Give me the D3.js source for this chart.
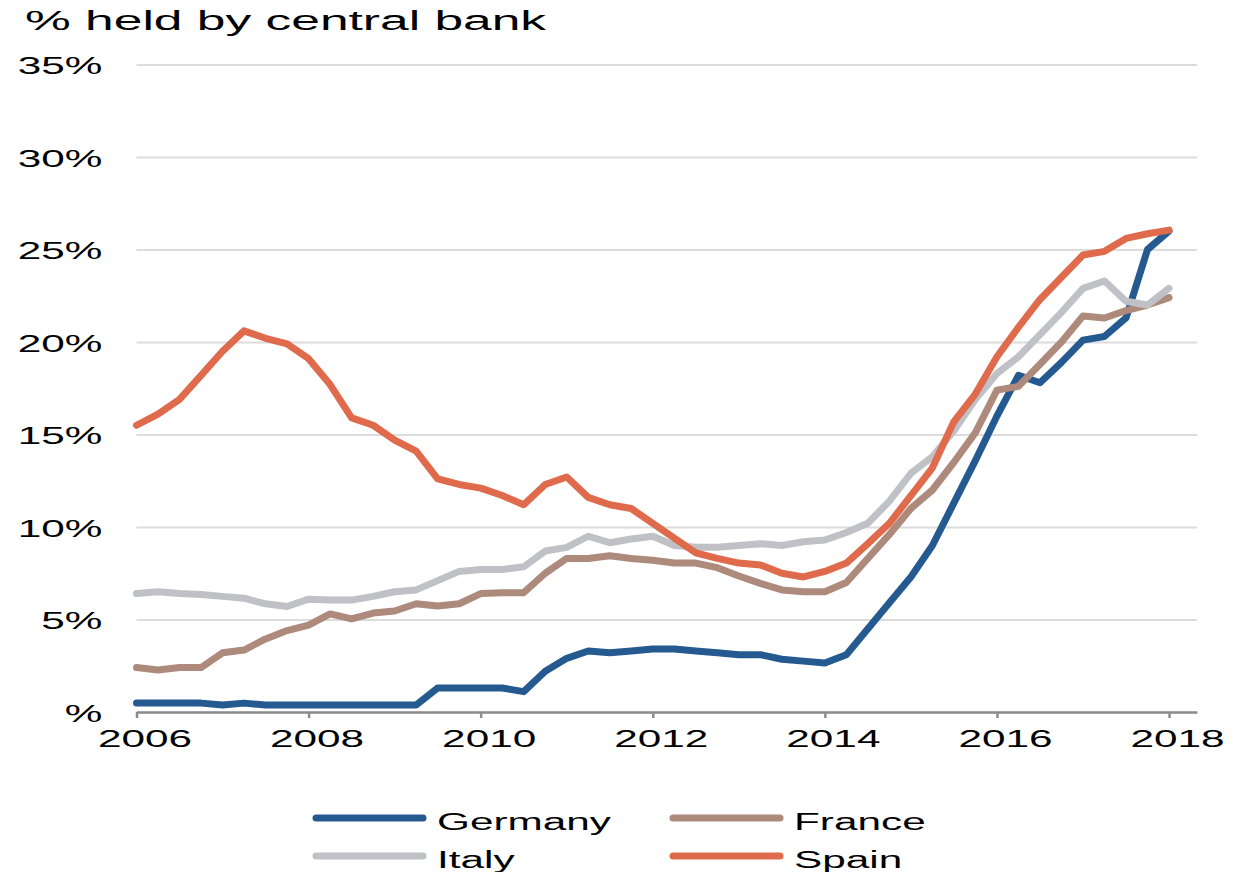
<!DOCTYPE html>
<html>
<head>
<meta charset="utf-8">
<script src="https://cdn.jsdelivr.net/npm/d3@7"></script>
<style>
  body { margin: 0; background: #fff; }
  text { font-family: "Liberation Sans", Arial, sans-serif; fill: #000; }
</style>
</head>
<body>
<svg id="chart"></svg>
<script>
let width = 1233;
let height = 872;

// quarterly observations, 2006Q1 .. 2018Q1
const quarters = d3.range(49).map(i => 2006 + i / 4);
const yTicks = [0, 5, 10, 15, 20, 25, 30, 35];
const xTicks = [2006, 2008, 2010, 2012, 2014, 2016, 2018];

const germany = [
  0.48, 0.48, 0.48, 0.48,
  0.38, 0.48, 0.38, 0.38,
  0.38, 0.38, 0.38, 0.38,
  0.38, 0.38, 1.3, 1.3,
  1.3, 1.3, 1.1, 2.2,
  2.9, 3.3, 3.2, 3.3,
  3.4, 3.4, 3.3, 3.2,
  3.1, 3.1, 2.85, 2.75,
  2.65, 3.1, 4.5, 5.9,
  7.3, 9.0, 11.3, 13.6,
  16.0, 18.2, 17.8, 18.9,
  20.1, 20.3, 21.3, 25.0,
  26.0
];
const france = [
  2.4, 2.27, 2.4, 2.4,
  3.2, 3.35, 3.95, 4.4,
  4.7, 5.3, 5.03, 5.35,
  5.46, 5.85, 5.73, 5.85,
  6.4, 6.45, 6.45, 7.5,
  8.3, 8.3, 8.45, 8.3,
  8.2, 8.05, 8.05, 7.8,
  7.35, 6.95, 6.6, 6.5,
  6.5, 7.0, 8.3, 9.6,
  11.0, 12.0, 13.5, 15.1,
  17.4, 17.6, 18.8, 20.0,
  21.4, 21.3, 21.7, 22.0,
  22.4
];
const italy = [
  6.4, 6.5, 6.4, 6.35,
  6.25, 6.15, 5.85, 5.7,
  6.1, 6.05, 6.05, 6.25,
  6.5, 6.6, 7.1, 7.6,
  7.7, 7.7, 7.85, 8.7,
  8.9, 9.5, 9.15, 9.35,
  9.5, 9.0, 8.9, 8.9,
  9.0, 9.1, 9.0, 9.2,
  9.3, 9.7, 10.2, 11.4,
  12.9, 13.8, 15.2, 16.9,
  18.3, 19.2, 20.4, 21.6,
  22.9, 23.3, 22.2, 22.0,
  22.9
];
const spain = [
  15.5, 16.1, 16.9, 18.2,
  19.5, 20.6, 20.2, 19.9,
  19.1, 17.7, 15.9, 15.5,
  14.7, 14.1, 12.6, 12.3,
  12.1, 11.7, 11.2, 12.3,
  12.7, 11.6, 11.2, 11.0,
  10.2, 9.4, 8.6, 8.3,
  8.05, 7.95, 7.5, 7.3,
  7.6, 8.05, 9.1, 10.2,
  11.7, 13.2, 15.7, 17.2,
  19.2, 20.8, 22.3, 23.5,
  24.7, 24.9, 25.6, 25.85,
  26.05
];

const seriesNames = ['Germany', 'France', 'Italy', 'Spain'];
const seriesValues = [germany, france, italy, spain];
const colors = ['#255a91', '#ad8a7b', '#c0c1c6', '#e06a4c'];

// source picture has horizontally stretched lettering
const stretch = 1.84;

const svg = d3.select('#chart').attr('width', width).attr('height', height);

const x = d3.scaleLinear().domain([2006, 2018.325]).range([136.5, 1197]);
const y = d3.scaleLinear().domain([0, 35]).range([712, 64.5]);

// title
svg.append('text')
  .attr('transform', `translate(25,30) scale(${stretch},1)`)
  .style('font-size', '28px')
  .text('% held by central bank');

// y axis with gridlines
const yAxis = svg.append('g')
  .attr('transform', `translate(${x.range()[0]},0)`)
  .call(d3.axisLeft(y).tickValues(yTicks).tickSize(-(x.range()[1] - x.range()[0]))
    .tickFormat(d => d === 0 ? '%' : d + '%'));
yAxis.select('.domain').remove();
yAxis.selectAll('.tick line').attr('stroke', '#dcdcdc').attr('stroke-width', 2);
yAxis.selectAll('.tick text')
  .attr('x', 0).attr('dy', 0)
  .attr('text-anchor', 'end')
  .attr('transform', `translate(-34,9) scale(${stretch},1)`)
  .style('font-size', '23px');

// lines
const line = d3.line()
  .x((d, i) => x(quarters[i]))
  .y(d => y(d));

svg.append('g')
  .selectAll('path')
  .data(seriesValues)
  .join('path')
  .attr('d', line)
  .attr('fill', 'none')
  .attr('stroke', (d, i) => colors[i])
  .attr('stroke-width', 7)
  .attr('stroke-linejoin', 'round')
  .attr('stroke-linecap', 'round');

// x axis
const xAxis = svg.append('g')
  .attr('transform', `translate(0,${y(0)})`)
  .call(d3.axisBottom(x).tickValues(xTicks).tickSize(6).tickSizeOuter(0).tickFormat(d3.format('d')));
xAxis.select('.domain').attr('stroke', '#8c8c8c').attr('stroke-width', 2.5);
xAxis.selectAll('.tick line').attr('stroke', '#8c8c8c').attr('stroke-width', 2.5);
xAxis.selectAll('.tick text')
  .attr('y', 0).attr('dy', 0)
  .attr('text-anchor', 'middle')
  .attr('transform', `translate(8,35) scale(${stretch},1)`)
  .style('font-size', '23px');

// legend, two columns
const legendPos = [[313, 818], [670, 818], [313, 856], [670, 856]];
const legend = svg.append('g')
  .selectAll('g')
  .data(seriesNames)
  .join('g')
  .attr('transform', (d, i) => `translate(${legendPos[i][0]},${legendPos[i][1]})`);

legend.append('line')
  .attr('x1', 3).attr('x2', 110)
  .attr('stroke', (d, i) => colors[seriesNames.indexOf(d)])
  .attr('stroke-width', 7)
  .attr('stroke-linecap', 'round');

legend.append('text')
  .attr('transform', `translate(124,12) scale(${stretch},1)`)
  .style('font-size', '23px')
  .text(d => d);
</script>
</body>
</html>
